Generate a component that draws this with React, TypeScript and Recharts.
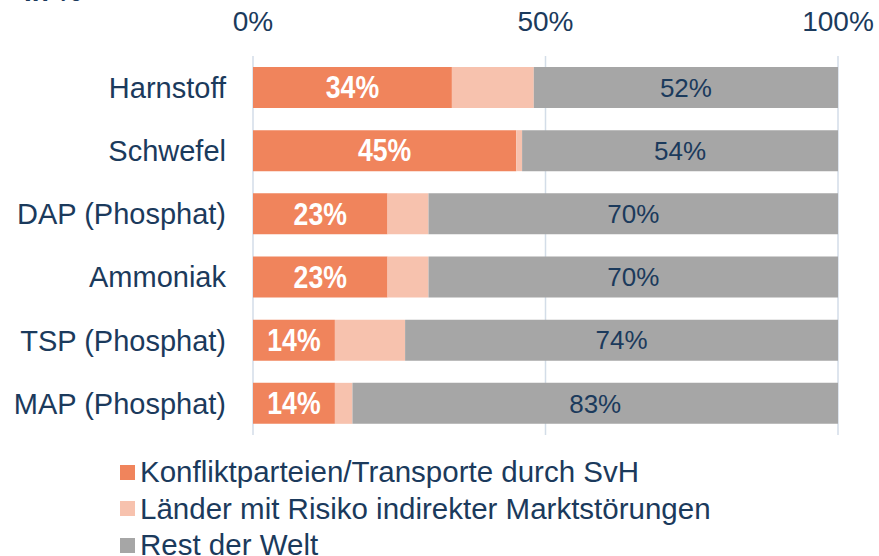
import React from "react";
import { BarChart, Bar, XAxis, YAxis, CartesianGrid, LabelList } from "recharts";

const categories = ["Harnstoff", "Schwefel", "DAP (Phosphat)", "Ammoniak", "TSP (Phosphat)", "MAP (Phosphat)"];
const konflikt = [34, 45, 23, 23, 14, 14];
const indirekt = [14, 1, 7, 7, 12, 3];
const restWelt = [52, 54, 70, 70, 74, 83];
const xTicks = [0, 50, 100];

const seriesNames = [
  "Konfliktparteien/Transporte durch SvH",
  "Länder mit Risiko indirekter Marktstörungen",
  "Rest der Welt",
];
const colors = ["#F0845C", "#F7C2AE", "#A6A6A6"];

const data = categories.map((name, i) => ({
  name,
  konflikt: konflikt[i],
  indirekt: indirekt[i],
  rest: restWelt[i],
}));

const navy = "#1B3A5C";
const font = "'Liberation Sans', Arial, sans-serif";

const NarrowLabel = (props: any) => {
  const { x, y, width, height, value } = props;
  const cx = x + width / 2;
  const cy = y + height / 2;
  return (
    <text
      transform={`translate(${cx},${cy}) scale(0.86,1)`}
      textAnchor="middle"
      dominantBaseline="central"
      fill="#fff"
      fontWeight="bold"
      fontSize={31}
      fontFamily={font}
    >
      {`${value}%`}
    </text>
  );
};

export default function App() {
  return (
    <div
      style={{
        position: "fixed",
        top: 0,
        left: 0,
        width: 879,
        height: 556,
        overflow: "hidden",
        background: "#fff",
        fontFamily: font,
      }}
    >
      <div
        style={{
          position: "absolute",
          left: 24,
          top: -22,
          fontSize: 28,
          lineHeight: "28px",
          fontWeight: "bold",
          color: navy,
        }}
      >
        In %
      </div>
      <BarChart
        width={879}
        height={556}
        data={data}
        layout="vertical"
        margin={{ top: 0, right: 41, bottom: 121, left: 0 }}
        barSize={41}
      >
        <CartesianGrid horizontal={false} stroke="#D3DDE8" strokeWidth={1.5} />
        <XAxis
          type="number"
          orientation="top"
          domain={[0, 100]}
          ticks={xTicks}
          tickFormatter={(v) => `${v}%`}
          axisLine={false}
          tickLine={false}
          tickSize={0}
          tickMargin={25}
          height={56}
          tick={{ fill: navy, fontSize: 28, fontFamily: font }}
        />
        <YAxis
          type="category"
          dataKey="name"
          width={253}
          axisLine={false}
          tickLine={false}
          tickSize={0}
          tickMargin={27}
          tick={{ fill: navy, fontSize: 29, fontFamily: font }}
        />
        <Bar dataKey="konflikt" stackId="a" fill={colors[0]} isAnimationActive={false}>
          <LabelList dataKey="konflikt" content={NarrowLabel} />
        </Bar>
        <Bar dataKey="indirekt" stackId="a" fill={colors[1]} isAnimationActive={false} />
        <Bar dataKey="rest" stackId="a" fill={colors[2]} isAnimationActive={false}>
          <LabelList
            dataKey="rest"
            position="center"
            formatter={(v: number) => `${v}%`}
            fill={navy}
            style={{ fontSize: 26, fontFamily: font }}
          />
        </Bar>
      </BarChart>
      <div style={{ position: "absolute", left: 120, top: 454 }}>
        {seriesNames.map((n, i) => (
          <div
            key={n}
            style={{ display: "flex", alignItems: "center", height: 36.5, fontSize: 29.5, color: navy }}
          >
            <span style={{ width: 15, height: 15, background: colors[i], marginRight: 5, flex: "none" }} />
            <span>{n}</span>
          </div>
        ))}
      </div>
    </div>
  );
}
